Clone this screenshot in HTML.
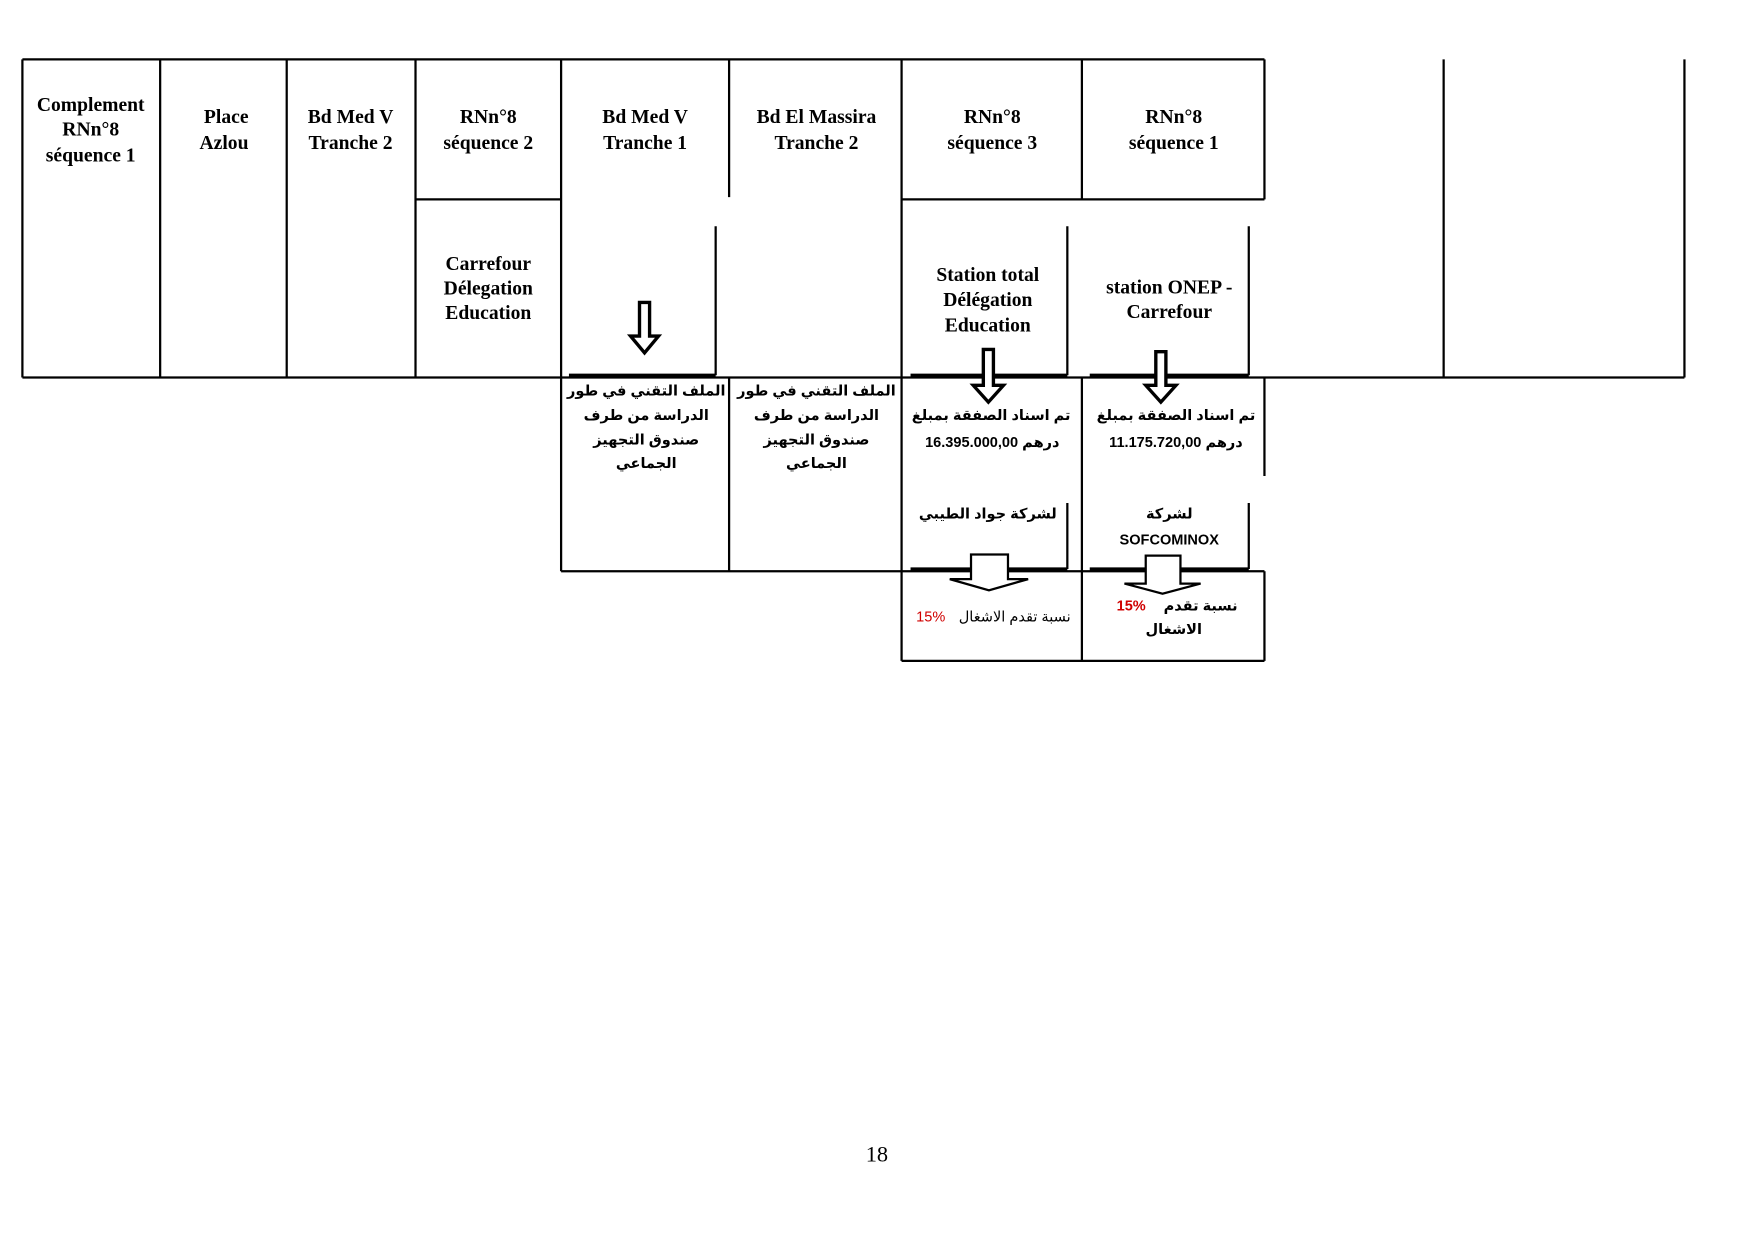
<!DOCTYPE html>
<html><head><meta charset="utf-8"><style>
html,body{margin:0;padding:0;background:#fff;}
svg{display:block;}
.h{font-family:"Liberation Serif",serif;font-weight:bold;font-size:17.5px;text-anchor:middle;fill:#000;}
.a{font-family:"Liberation Sans","DejaVu Sans",sans-serif;font-weight:bold;font-size:13px;text-anchor:middle;fill:#000;}
</style></head><body>
<svg width="1755" height="1240" viewBox="0 0 1567 1107" preserveAspectRatio="none" xmlns="http://www.w3.org/2000/svg">
<g stroke="#000" stroke-width="2" fill="none">
<line x1="20" y1="53" x2="1129" y2="53"/>
<line x1="20" y1="337" x2="1504" y2="337"/>
<line x1="20" y1="53" x2="20" y2="337"/>
<line x1="143" y1="53" x2="143" y2="337"/>
<line x1="256" y1="53" x2="256" y2="337"/>
<line x1="371" y1="53" x2="371" y2="337"/>
<line x1="501" y1="53" x2="501" y2="510"/>
<line x1="651" y1="53" x2="651" y2="176"/>
<line x1="651" y1="337" x2="651" y2="510"/>
<line x1="805" y1="53" x2="805" y2="590"/>
<line x1="966" y1="53" x2="966" y2="178"/>
<line x1="966" y1="337" x2="966" y2="590"/>
<line x1="1129" y1="53" x2="1129" y2="178"/>
<line x1="1129" y1="337" x2="1129" y2="425"/>
<line x1="1129" y1="510" x2="1129" y2="590"/>
<line x1="1289" y1="53" x2="1289" y2="337"/>
<line x1="1504" y1="53" x2="1504" y2="337"/>
<line x1="371" y1="178" x2="501" y2="178"/>
<line x1="805" y1="178" x2="1129" y2="178"/>
<line x1="639" y1="202" x2="639" y2="335"/>
<line x1="953" y1="202" x2="953" y2="335"/>
<line x1="1115" y1="202" x2="1115" y2="335"/>
<line x1="953" y1="449" x2="953" y2="508"/>
<line x1="1115" y1="449" x2="1115" y2="508"/>
<line x1="508" y1="335" x2="639" y2="335" stroke-width="3"/>
<line x1="813" y1="335" x2="953" y2="335" stroke-width="3"/>
<line x1="973" y1="335" x2="1115" y2="335" stroke-width="3"/>
<line x1="813" y1="508" x2="953" y2="508" stroke-width="3"/>
<line x1="973" y1="508" x2="1115" y2="508" stroke-width="3"/>
<line x1="501" y1="510" x2="1129" y2="510"/>
<line x1="805" y1="590" x2="1129" y2="590"/>
</g>
<g stroke="#000" stroke-width="3" fill="#fff">
<path d="M571 270 H580 V300 H588 L575.5 315 L563 300 H571 Z"/>
<path d="M878 312 H887 V344 H896 L882.5 359 L869 344 H878 Z"/>
<path d="M1032 314 H1041 V344 H1050 L1036.5 359 L1023 344 H1032 Z"/>
</g>
<g stroke="#000" stroke-width="2" fill="#fff">
<path d="M867 495 H900 V517 H918 L883 527 L848 517 H867 Z"/>
<path d="M1023 496 H1054 V521 H1072 L1038 530 L1004 521 H1023 Z"/>
</g>
<text class="h"><tspan x="81" y="99">Complement</tspan><tspan x="81" y="121">RNn°8</tspan><tspan x="81" y="144">séquence 1</tspan></text>
<text class="h"><tspan x="202" y="110">Place</tspan><tspan x="200" y="133">Azlou</tspan></text>
<text class="h"><tspan x="313" y="110">Bd Med V</tspan><tspan x="313" y="133">Tranche 2</tspan></text>
<text class="h"><tspan x="436" y="110">RNn°8</tspan><tspan x="436" y="133">séquence 2</tspan></text>
<text class="h"><tspan x="576" y="110">Bd  Med V</tspan><tspan x="576" y="133">Tranche 1</tspan></text>
<text class="h"><tspan x="729" y="110">Bd  El Massira</tspan><tspan x="729" y="133">Tranche 2</tspan></text>
<text class="h"><tspan x="886" y="110">RNn°8</tspan><tspan x="886" y="133">séquence 3</tspan></text>
<text class="h"><tspan x="1048" y="110">RNn°8</tspan><tspan x="1048" y="133">séquence 1</tspan></text>
<text class="h"><tspan x="436" y="241">Carrefour</tspan><tspan x="436" y="263">Délegation</tspan><tspan x="436" y="285">Education</tspan></text>
<text class="h"><tspan x="882" y="251">Station total</tspan><tspan x="882" y="273">Délégation</tspan><tspan x="882" y="296">Education</tspan></text>
<text class="h"><tspan x="1044" y="262">station  ONEP -</tspan><tspan x="1044" y="284">Carrefour</tspan></text>
<text class="a"><tspan x="577" y="353">الملف التقني في طور</tspan><tspan x="577" y="375">الدراسة من طرف</tspan><tspan x="577" y="397">صندوق التجهيز</tspan><tspan x="577" y="418">الجماعي</tspan></text>
<text class="a"><tspan x="729" y="353">الملف التقني في طور</tspan><tspan x="729" y="375">الدراسة من طرف</tspan><tspan x="729" y="397">صندوق التجهيز</tspan><tspan x="729" y="418">الجماعي</tspan></text>
<text class="a"><tspan x="885" y="375">تم اسناد الصفقة بمبلغ</tspan><tspan x="886" y="399" direction="rtl">16.395.000,00 درهم</tspan></text>
<text class="a"><tspan x="1050" y="375">تم اسناد الصفقة بمبلغ</tspan><tspan x="1050" y="399" direction="rtl">11.175.720,00 درهم</tspan></text>
<text class="a"><tspan x="882" y="463">لشركة جواد الطيبي</tspan></text>
<text class="a"><tspan x="1044" y="463">لشركة</tspan><tspan x="1044" y="486">SOFCOMINOX</tspan></text>
<text class="a" style="font-weight:normal" x="906" y="555">نسبة تقدم الاشغال</text>
<text class="a" style="font-weight:normal;fill:#d00000" x="831" y="555">15%</text>
<text class="a" x="1072" y="545">نسبة تقدم</text>
<text class="a" style="fill:#d00000" x="1010" y="545">15%</text>
<text class="a" x="1048" y="566">الاشغال</text>
<text style="font-family:'Liberation Serif',serif;font-size:20px" x="783" y="1037" text-anchor="middle">18</text>
</svg>
</body></html>
